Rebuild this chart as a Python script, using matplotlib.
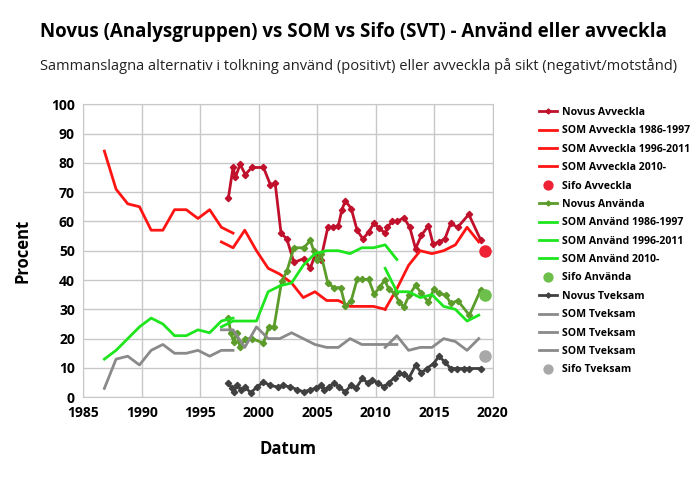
import matplotlib
matplotlib.use('Agg')
import matplotlib.pyplot as plt

plt.rcParams['font.family'] = ['Open Sans', 'DejaVu Sans']

# SOM yearly surveys (plotted late in the year)
som_years_1 = [1986.8, 1987.8, 1988.8, 1989.8, 1990.8, 1991.8, 1992.8, 1993.8, 1994.8, 1995.8, 1996.8, 1997.8]
som_years_2 = [1996.8, 1997.8, 1998.8, 1999.8, 2000.8, 2001.8, 2002.8, 2003.8, 2004.8, 2005.8, 2006.8,
               2007.8, 2008.8, 2009.8, 2010.8, 2011.8]
som_years_3 = [2010.8, 2011.8, 2012.8, 2013.8, 2014.8, 2015.8, 2016.8, 2017.8, 2018.8]

som_avveckla_1 = [84, 71, 66, 65, 57, 57, 64, 64, 61, 64, 58, 56]
som_avveckla_2 = [53, 51, 57, 50, 44, 42, 39, 34, 36, 33, 33, 31, 31, 31, 30]
som_avveckla_3 = [30, 37, 45, 50, 49, 50, 52, 58, 53]

som_anvand_1 = [13, 16, 20, 24, 27, 25, 21, 21, 23, 22, 26, 27]
som_anvand_2 = [24, 26, 26, 26, 36, 38, 39, 45, 49, 50, 50, 49, 51, 51, 52, 47]
som_anvand_3 = [44, 36, 36, 34, 35, 31, 30, 26, 28]

som_tveksam_1 = [3, 13, 14, 11, 16, 18, 15, 15, 16, 14, 16, 16]
som_tveksam_2 = [23, 23, 17, 24, 20, 20, 22, 20, 18, 17, 17, 20, 18, 18, 18, 18]
som_tveksam_3 = [17, 21, 16, 17, 17, 20, 19, 16, 20]

# Novus
novus_av_years = [1997.4, 1997.8, 1998.0, 1998.4, 1998.85, 1999.4, 2000.4, 2001.0, 2001.4, 2001.9, 2002.4,
                  2003.0, 2003.85, 2004.4, 2004.85, 2005.3, 2005.9, 2006.3, 2006.8, 2007.1, 2007.4, 2007.9,
                  2008.4, 2008.9, 2009.4, 2009.85, 2010.3, 2010.8, 2011.0, 2011.4, 2011.85, 2012.4, 2012.9,
                  2013.4, 2013.9, 2014.5, 2014.9, 2015.4, 2015.9, 2016.4, 2017.0, 2017.95, 2018.95]
novus_avveckla = [68, 78.5, 75, 79.5, 76, 78.4, 78.4, 72.4, 73, 56, 54,
                  46, 47.3, 44, 49, 47, 58, 58, 58.5, 64, 67, 64.4,
                  57, 54, 56.4, 59.5, 57.6, 56, 58, 60, 60, 61.3, 58,
                  50.7, 55.3, 58.5, 52.2, 53, 54, 59.3, 58, 62.4, 53.8]

novus_an_years = [1997.4, 1997.6, 1997.85, 1998.1, 1998.4, 1998.85, 1999.4, 2000.4, 2000.85, 2001.3, 2001.95,
                  2002.4, 2003.0, 2003.85, 2004.4, 2004.7, 2005.0, 2005.3, 2005.9, 2006.4, 2007.0, 2007.4,
                  2007.9, 2008.4, 2008.85, 2009.4, 2009.85, 2010.35, 2010.75, 2011.1, 2011.6, 2012.0, 2012.4,
                  2012.85, 2013.4, 2013.9, 2014.5, 2014.95, 2015.4, 2016.0, 2016.4, 2017.0, 2018.0, 2018.95]
novus_anvanda = [27, 22, 19, 22, 17, 20, 20, 18.5, 24, 24, 39.5,
                 43, 51, 51, 53.5, 50, 47, 49, 39, 37.4, 37.4, 31,
                 33, 40.2, 40.2, 40.2, 35.2, 37.5, 40, 37, 35.4, 32.5, 30.8,
                 34.8, 38.2, 35.4, 32.5, 36.8, 35.4, 34.8, 32, 33, 28, 36.5]

novus_tv_years = [1997.4, 1997.7, 1997.9, 1998.1, 1998.5, 1998.85, 1999.3, 1999.85, 2000.4, 2001.0, 2001.6,
                  2002.1, 2002.7, 2003.3, 2003.85, 2004.4, 2004.85, 2005.3, 2005.6, 2006.0, 2006.45, 2006.85,
                  2007.4, 2007.85, 2008.3, 2008.85, 2009.3, 2009.7, 2010.2, 2010.7, 2011.1, 2011.6, 2012.0,
                  2012.4, 2012.85, 2013.4, 2013.9, 2014.35, 2014.95, 2015.4, 2015.9, 2016.4, 2016.9, 2017.5,
                  2018.0, 2019.0]
novus_tveksam = [4.9, 3, 1.8, 4, 2.6, 3.5, 1.5, 3.5, 5.2, 4, 3.5,
                 4, 3.5, 2.6, 1.8, 2.6, 3, 4, 2.6, 3.5, 4.9, 3.5,
                 1.8, 4, 3, 6.4, 4.9, 5.8, 4.9, 3.5, 4.9, 6.7, 8.1,
                 7.8, 6.7, 10.9, 8.3, 9.8, 11.5, 14, 12, 9.8, 9.8, 9.8,
                 9.8, 9.8]

# Sifo
sifo_year = [2019.35]
sifo_avveckla = [50]
sifo_anvanda = [35]
sifo_tveksam = [14]

c_novus_av = '#c0102c'
c_som_av = '#ff1414'
c_sifo_av = '#ee2233'
c_novus_an = '#5b9c2b'
c_som_an = '#1ee61e'
c_sifo_an = '#6cbf4a'
c_novus_tv = '#404040'
c_som_tv = '#8a8a8a'
c_sifo_tv = '#a8a8a8'

fig = plt.figure(figsize=(7, 4.78), dpi=100)
ax = fig.add_axes([0.119, 0.169, 0.585, 0.613])

nov_kw = dict(lw=2, marker='D', ms=3.2)
som_kw = dict(lw=2)

ax.plot(novus_av_years, novus_avveckla, color=c_novus_av, label='Novus Avveckla', **nov_kw)
ax.plot(som_years_1, som_avveckla_1, color=c_som_av, label='SOM Avveckla 1986-1997', **som_kw)
ax.plot(som_years_2[:15], som_avveckla_2, color=c_som_av, label='SOM Avveckla 1996-2011', **som_kw)
ax.plot(som_years_3, som_avveckla_3, color=c_som_av, label='SOM Avveckla 2010-', **som_kw)
ax.plot(sifo_year, sifo_avveckla, 'o', color=c_sifo_av, ms=8, label='Sifo Avveckla')

ax.plot(novus_an_years, novus_anvanda, color=c_novus_an, label='Novus Använda', **nov_kw)
ax.plot(som_years_1, som_anvand_1, color=c_som_an, label='SOM Använd 1986-1997', **som_kw)
ax.plot(som_years_2, som_anvand_2, color=c_som_an, label='SOM Använd 1996-2011', **som_kw)
ax.plot(som_years_3, som_anvand_3, color=c_som_an, label='SOM Använd 2010-', **som_kw)
ax.plot(sifo_year, sifo_anvanda, 'o', color=c_sifo_an, ms=8, label='Sifo Använda')

ax.plot(novus_tv_years, novus_tveksam, color=c_novus_tv, label='Novus Tveksam', **nov_kw)
ax.plot(som_years_1, som_tveksam_1, color=c_som_tv, label='SOM Tveksam', **som_kw)
ax.plot(som_years_2, som_tveksam_2, color=c_som_tv, label='SOM Tveksam', **som_kw)
ax.plot(som_years_3, som_tveksam_3, color=c_som_tv, label='SOM Tveksam', **som_kw)
ax.plot(sifo_year, sifo_tveksam, 'o', color=c_sifo_tv, ms=8, label='Sifo Tveksam')

ax.set_xlim(1985, 2020)
ax.set_ylim(0, 100)
ax.set_xticks(range(1985, 2021, 5))
ax.set_yticks(range(0, 101, 10))
ax.grid(True, color='#c8c8c8', lw=1)
ax.set_axisbelow(True)
for s in ax.spines.values():
    s.set_color('#c8c8c8')
ax.tick_params(length=0, pad=6, labelsize=10)
for lbl in ax.get_xticklabels() + ax.get_yticklabels():
    lbl.set_fontweight('bold')

ax.set_xlabel('Datum', fontsize=12, fontweight='bold', labelpad=15)
ax.set_ylabel('Procent', fontsize=12, fontweight='bold', labelpad=14)

fig.text(0.057, 0.933, 'Novus (Analysgruppen) vs SOM vs Sifo (SVT) - Använd eller avveckla',
         fontsize=13.5, fontweight='bold', va='center')
fig.text(0.057, 0.862, 'Sammanslagna alternativ i tolkning använd (positivt) eller avveckla på sikt (negativt/motstånd)',
         fontsize=10.5, va='center', color='#222222')

leg = ax.legend(loc='upper left', bbox_to_anchor=(1.103, 1.005), frameon=False,
                prop=dict(family='Open Sans', weight='bold', size=7.6),
                handlelength=1.7, labelspacing=0.70, handletextpad=0.45, borderaxespad=0,
                markerscale=0.8)

fig.savefig('out.png', dpi=100)
